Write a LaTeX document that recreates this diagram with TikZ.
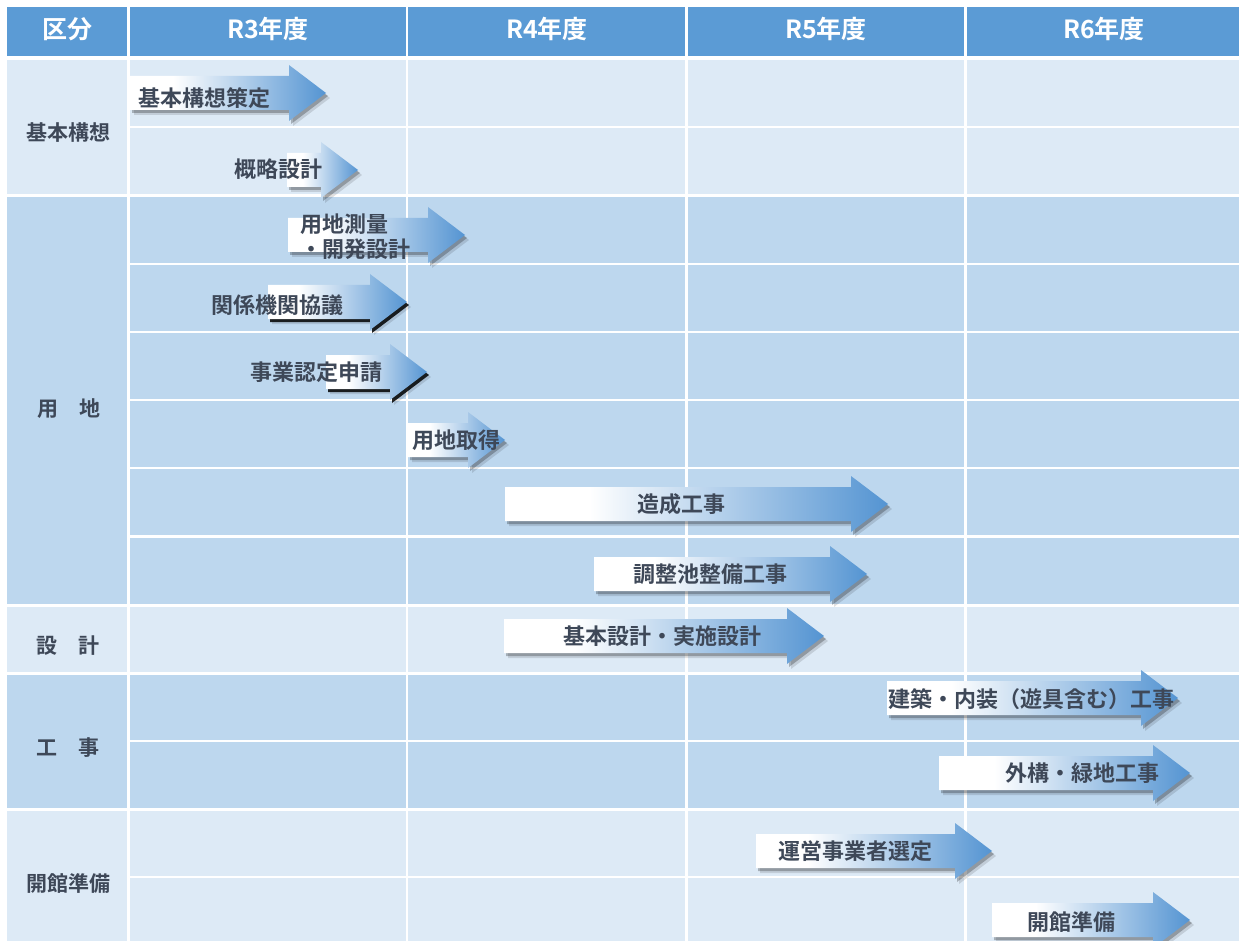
\documentclass[tikz,border=0pt]{standalone}
\usepackage{fontspec}
\setmainfont{Noto Sans CJK JP}[BoldFont={Noto Sans CJK JP Bold}]
\definecolor{hdrblue}{RGB}{91,155,213}
\definecolor{lightrow}{RGB}{221,234,246}
\definecolor{darkrow}{RGB}{189,215,238}
\definecolor{arrowblue}{RGB}{84,148,210}
\definecolor{txt}{RGB}{62,72,88}
\pgfdeclarehorizontalshading{arrowshade}{100bp}{color(0bp)=(white); color(25bp)=(white); color(36bp)=(white); color(75bp)=(arrowblue); color(100bp)=(arrowblue)}
\newcommand\arrowpath[3]{({#1},{#3-17}) -- ({#2-37},{#3-17}) -- ({#2-37},{#3-28}) -- ({#2},{#3}) -- ({#2-37},{#3+28}) -- ({#2-37},{#3+17}) -- ({#1},{#3+17}) -- cycle}
% #1 left, #2 tip, #3 centre y, #4 shadow opacity
\newcommand\garrow[4]{%
  \fill[black,opacity=0.12,shift={(4,5)}] \arrowpath{#1}{#2}{#3};
  \fill[black,opacity=#4,shift={(2,3)}] \arrowpath{#1}{#2}{#3};
  \shade[shading=arrowshade] \arrowpath{#1}{#2}{#3};
}
\tikzset{
  lbl/.style={font=\bfseries\fontsize{22}{22}\selectfont, text=txt, inner sep=0pt, anchor=base},
  sec/.style={font=\bfseries\fontsize{21}{21}\selectfont, text=txt, inner sep=0pt, anchor=base},
  hdr/.style={font=\bfseries\fontsize{25}{25}\selectfont, text=white, inner sep=0pt, anchor=base},
  gridline/.style={white, line width=2.5pt},
  secline/.style={white, line width=3pt}
}
\begin{document}
\begin{tikzpicture}[x=1pt,y=-1pt]
\fill[white] (0,0) rectangle (1239,941);
\useasboundingbox (0,0) rectangle (1239,941);
% backgrounds
\fill[hdrblue] (7,7) rectangle (1239,56);
\fill[lightrow] (7,58) rectangle (1239,196);
\fill[darkrow] (7,196) rectangle (1239,605);
\fill[lightrow] (7,605) rectangle (1239,673);
\fill[darkrow] (7,673) rectangle (1239,809);
\fill[lightrow] (7,809) rectangle (1239,941);
% grid
\draw[white, line width=4pt] (7,58) -- (1239,58);
\foreach \yy in {196,605,673,809} \draw[secline] (7,\yy) -- (1239,\yy);
\foreach \yy in {127,264,332,400,468,536.5,741,877} \draw[gridline] (128.5,\yy) -- (1239,\yy);
\foreach \xx in {128.5,407,686.5,965.5} \draw[gridline] (\xx,7) -- (\xx,941);
% header
\node[hdr] (h0) at (67,39) {区分};
\node[hdr] (h3) at (268,39) {R3年度};
\node[hdr] (h4) at (547,39) {R4年度};
\node[hdr] (h5) at (826,39) {R5年度};
\node[hdr] (h6) at (1104,39) {R6年度};
% section labels
\node[sec] (s1) at (68,141) {基本構想};
\node[sec] (s2) at (69,416) {用　地};
\node[sec] (s3) at (68,653) {設　計};
\node[sec] (s4) at (68,755) {工　事};
\node[sec] (s5) at (68,891) {開館準備};
% arrows
\garrow{130}{326}{93}{0.25}
\garrow{287}{358}{170}{0.25}
\garrow{288}{465}{235}{0.25}
\garrow{268}{407}{302}{0.85}
\garrow{326}{427}{372}{0.85}
\garrow{408}{505}{440}{0.25}
\garrow{505}{888}{504}{0.25}
\garrow{594}{867}{574}{0.25}
\garrow{504}{824}{636}{0.25}
\garrow{887}{1178}{698}{0.25}
\garrow{939}{1190}{773}{0.25}
\garrow{756}{992}{851}{0.25}
\garrow{992}{1190}{920}{0.25}
% arrow labels
\node[lbl] (t1) at (204,107) {基本構想策定};
\node[lbl] (t2) at (278,178) {概略設計};
\node[lbl,anchor=base west] (t3a) at (300,233) {用地測量};
\node[lbl,anchor=base west] (t3b) at (300,258) {・開発設計};
\node[lbl] (t4) at (277,313) {関係機関協議};
\node[lbl] (t5) at (316,380) {事業認定申請};
\node[lbl] (t6) at (456,448) {用地取得};
\node[lbl] (t7) at (681,512) {造成工事};
\node[lbl] (t8) at (710,582) {調整池整備工事};
\node[lbl] (t9) at (662,644) {基本設計・実施設計};
\node[lbl] (t10) at (1031,707) {建築・内装（遊具含む）工事};
\node[lbl] (t11) at (1082,781) {外構・緑地工事};
\node[lbl] (t12) at (855,859) {運営事業者選定};
\node[lbl] (t13) at (1071,930) {開館準備};
\end{tikzpicture}
\end{document}
